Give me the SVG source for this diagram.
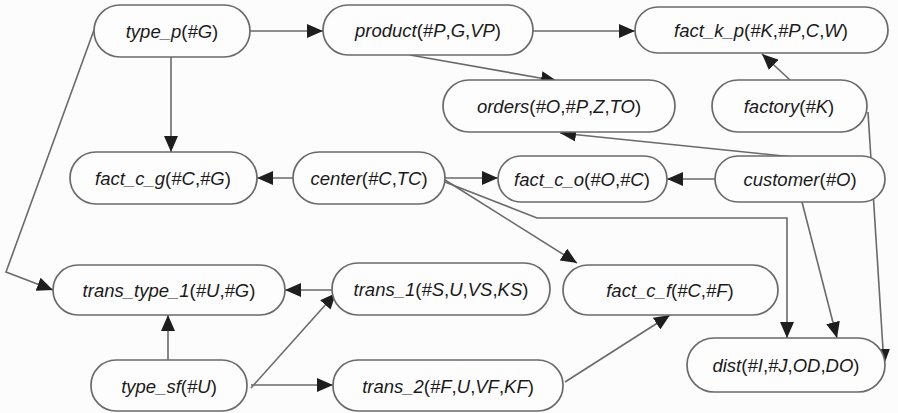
<svg xmlns="http://www.w3.org/2000/svg" width="898" height="413" viewBox="0 0 898 413">
  <defs>
    <marker id="arrow" viewBox="0 0 16 14" refX="16" refY="7" markerWidth="16" markerHeight="14" markerUnits="userSpaceOnUse" orient="auto">
      <path d="M0,0 L16,7 L0,14 Z" fill="#1e1e1e"/>
    </marker>
  </defs>
  <style>
    .node rect { fill: #fdfdfd; stroke: #6a6a6a; stroke-width: 1.7; }
    .node text { font-family: "Liberation Sans", Arial, sans-serif; font-size: 18.5px; font-style: italic; fill: #1a1a1a; text-anchor: middle; }
    .node text .u { font-style: normal; }
    #connectors path { fill: none; stroke: #6a6a6a; stroke-width: 1.6; marker-end: url(#arrow); }
  </style>
  <rect width="898" height="413" fill="#fcfcfc"/>

  <g id="connectors">
    <path d="M250,31 L323,31"/>
    <path d="M533,31 L635,31"/>
    <path d="M410,55 L557,81"/>
    <path d="M171,57 L171,152"/>
    <path d="M790,80 L762,54"/>
    <path d="M793,157 L560,133"/>
    <path d="M715,179 L667,179"/>
    <path d="M293,178 L257,178"/>
    <path d="M445,178 L498,178"/>
    <path d="M445,180 L577,263"/>
    <path d="M445,182 L537,218 L787,218 L787,338"/>
    <path d="M802,202 L837,338"/>
    <path d="M868,112 L884,365"/>
    <path d="M94,30 L6,272 L53,290"/>
    <path d="M332,290 L285,290"/>
    <path d="M168,360 L168,315"/>
    <path d="M251,388 L336,293"/>
    <path d="M251,385 L333,385"/>
    <path d="M565,382 L670,315"/>
  </g>

  <g id="type_p" class="node">
    <rect x="94" y="5" width="156" height="52" rx="26"/>
    <text x="172" y="38">type_p<tspan class="u">(</tspan>#G<tspan class="u">)</tspan></text>
  </g>
  <g id="product" class="node">
    <rect x="323" y="5" width="210" height="50" rx="25"/>
    <text x="428" y="37">product<tspan class="u">(</tspan>#P<tspan class="u">,</tspan>G<tspan class="u">,</tspan>VP<tspan class="u">)</tspan></text>
  </g>
  <g id="fact_k_p" class="node">
    <rect x="635" y="7" width="253" height="46" rx="23"/>
    <text x="761" y="37">fact_k_p<tspan class="u">(</tspan>#K<tspan class="u">,</tspan>#P<tspan class="u">,</tspan>C<tspan class="u">,</tspan>W<tspan class="u">)</tspan></text>
  </g>
  <g id="orders" class="node">
    <rect x="443" y="80" width="232" height="52" rx="26"/>
    <text x="559" y="113">orders<tspan class="u">(</tspan>#O<tspan class="u">,</tspan>#P<tspan class="u">,</tspan>Z<tspan class="u">,</tspan>TO<tspan class="u">)</tspan></text>
  </g>
  <g id="factory" class="node">
    <rect x="712" y="80" width="155" height="52" rx="26"/>
    <text x="789" y="113">factory<tspan class="u">(</tspan>#K<tspan class="u">)</tspan></text>
  </g>
  <g id="fact_c_g" class="node">
    <rect x="70" y="152" width="187" height="52" rx="26"/>
    <text x="163" y="185">fact_c_g<tspan class="u">(</tspan>#C<tspan class="u">,</tspan>#G<tspan class="u">)</tspan></text>
  </g>
  <g id="center" class="node">
    <rect x="293" y="152" width="152" height="52" rx="26"/>
    <text x="369" y="185">center<tspan class="u">(</tspan>#C<tspan class="u">,</tspan>TC<tspan class="u">)</tspan></text>
  </g>
  <g id="fact_c_o" class="node">
    <rect x="498" y="156" width="169" height="46" rx="23"/>
    <text x="582" y="186">fact_c_o<tspan class="u">(</tspan>#O<tspan class="u">,</tspan>#C<tspan class="u">)</tspan></text>
  </g>
  <g id="customer" class="node">
    <rect x="715" y="156" width="170" height="46" rx="23"/>
    <text x="800" y="186">customer<tspan class="u">(</tspan>#O<tspan class="u">)</tspan></text>
  </g>
  <g id="trans_type_1" class="node">
    <rect x="53" y="265" width="232" height="50" rx="25"/>
    <text x="169" y="297">trans_type_1<tspan class="u">(</tspan>#U<tspan class="u">,</tspan>#G<tspan class="u">)</tspan></text>
  </g>
  <g id="trans_1" class="node">
    <rect x="332" y="263" width="218" height="52" rx="26"/>
    <text x="441" y="296">trans_1<tspan class="u">(</tspan>#S<tspan class="u">,</tspan>U<tspan class="u">,</tspan>VS<tspan class="u">,</tspan>KS<tspan class="u">)</tspan></text>
  </g>
  <g id="fact_c_f" class="node">
    <rect x="563" y="265" width="215" height="50" rx="25"/>
    <text x="670" y="297">fact_c_f<tspan class="u">(</tspan>#C<tspan class="u">,</tspan>#F<tspan class="u">)</tspan></text>
  </g>
  <g id="type_sf" class="node">
    <rect x="91" y="360" width="156" height="51" rx="25"/>
    <text x="169" y="393">type_sf<tspan class="u">(</tspan>#U<tspan class="u">)</tspan></text>
  </g>
  <g id="trans_2" class="node">
    <rect x="333" y="360" width="230" height="51" rx="25"/>
    <text x="448" y="393">trans_2<tspan class="u">(</tspan>#F<tspan class="u">,</tspan>U<tspan class="u">,</tspan>VF<tspan class="u">,</tspan>KF<tspan class="u">)</tspan></text>
  </g>
  <g id="dist" class="node">
    <rect x="687" y="338" width="198" height="54" rx="27"/>
    <text x="786" y="372">dist<tspan class="u">(</tspan>#I<tspan class="u">,</tspan>#J<tspan class="u">,</tspan>OD<tspan class="u">,</tspan>DO<tspan class="u">)</tspan></text>
  </g>
</svg>
